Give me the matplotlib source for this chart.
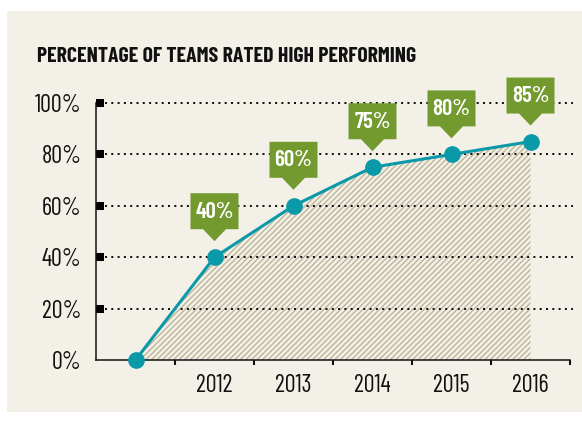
import matplotlib
matplotlib.use("Agg")
import matplotlib.pyplot as plt
from matplotlib import font_manager as fm
from matplotlib.patches import Rectangle, Polygon
from matplotlib.transforms import Affine2D, ScaledTranslation
from matplotlib.ticker import FixedLocator, NullFormatter, FixedFormatter

# ---- data ----
categories = ["", "2012", "2013", "2014", "2015", "2016"]
values = [0, 40, 60, 75, 80, 85]
value_labels = ["", "40%", "60%", "75%", "80%", "85%"]
yticks = [0, 20, 40, 60, 80, 100]
ytick_labels = ["0%", "20%", "40%", "60%", "80%", "100%"]
title = "PERCENTAGE OF TEAMS RATED HIGH PERFORMING"

# ---- style ----
PANEL = "#F3F0E8"
GREEN = "#739A2F"
TEAL = "#0A99A8"
HATCH = "#BDB597"
INK = "#111111"

names = {f.name for f in fm.fontManager.ttflist}
FAM = None
for cand in ["Barlow Condensed", "Roboto Condensed", "Archivo Narrow",
             "Liberation Sans Narrow"]:
    if cand in names:
        FAM = [cand, "DejaVu Sans"]
        break
if FAM is None:
    FAM = ["DejaVu Sans"]
    plt.rcParams["font.stretch"] = "condensed"
plt.rcParams["font.family"] = FAM
plt.rcParams["hatch.linewidth"] = 1.0

W, H, DPI = 582, 423, 100
fig = plt.figure(figsize=(W / DPI, H / DPI), dpi=DPI, facecolor="white")

# panel background
fig.patches.append(Rectangle((7 / W, 1 - 412 / H), (W - 7) / W, (412 - 11) / H,
                             transform=fig.transFigure, facecolor=PANEL,
                             edgecolor="none", zorder=-10))

ax = fig.add_axes([96 / W, 1 - 360 / H, (570 - 96) / W, (360 - 103) / H])
ax.set_facecolor("none")

x = list(range(len(categories)))
ax.set_xlim(-0.5, len(categories) - 0.5)
ax.set_ylim(0, 100)

for s in ("top", "right"):
    ax.spines[s].set_visible(False)
for s in ("left", "bottom"):
    ax.spines[s].set_color(INK)
    ax.spines[s].set_linewidth(1.1)

# hatched area
ax.fill_between(x, values, 0, facecolor=PANEL, edgecolor=HATCH, hatch="//////",
                linewidth=0, zorder=1)

# dotted grid
ax.hlines(yticks[1:], 0.02, 1.006, transform=ax.get_yaxis_transform(),
          colors=INK, linewidth=1.44, linestyles=(0, (1, 2.15)),
          clip_on=False, zorder=2)

# line + markers
ax.plot(x, values, color=TEAL, linewidth=2.2, marker="o", markersize=11,
        clip_on=False, zorder=5)

TICK_FS = 17.5

# y axis ticks (squares)
ax.yaxis.set_major_locator(FixedLocator(yticks))
ax.yaxis.set_major_formatter(FixedFormatter(ytick_labels))
ax.tick_params(axis="y", direction="in", length=5.76, width=5.76, color="black",
               pad=10.4, labelsize=TICK_FS, labelcolor=INK)
ax.yaxis.get_major_ticks()[0].tick1line.set_visible(False)

# x axis: ticks between categories, labels at categories
ax.xaxis.set_major_locator(FixedLocator([i + 0.5 for i in x]))
ax.xaxis.set_major_formatter(NullFormatter())
ax.xaxis.set_minor_locator(FixedLocator(x[1:]))
ax.xaxis.set_minor_formatter(FixedFormatter(categories[1:]))
ax.tick_params(axis="x", which="major", direction="out", length=3.5, width=1.5,
               color=INK)
ax.tick_params(axis="x", which="minor", length=0, pad=23, labelsize=TICK_FS,
               labelcolor=INK)
for t in ax.xaxis.get_minor_ticks():
    t.label1.set_va("baseline")

# callouts
px2pt = 72 / DPI
for xi, v, lab in zip(x, values, value_labels):
    if not lab:
        continue
    verts = [(-24, 28), (-11.5, 28), (0, 16), (11.5, 28), (24, 28), (24, 64), (-24, 64)]
    tr = Affine2D() + ScaledTranslation(xi, v, ax.transData)
    ax.add_patch(Polygon(verts, closed=True, transform=tr, facecolor=GREEN,
                         edgecolor="none", clip_on=False, zorder=6))
    ax.annotate(lab, (xi, v), xytext=(0, 39.5 * px2pt), textcoords="offset points",
                ha="center", va="baseline", color="white", fontsize=16.5,
                fontweight="semibold", zorder=7, annotation_clip=False)

# title, fitted to width
t = fig.text(37 / W, 1 - 62 / H, title, fontsize=15.5, fontweight="bold",
             color=INK, va="baseline", ha="left")
fig.canvas.draw()
bb = t.get_window_extent()
t.set_fontsize(15.5 * 380 / bb.width)

fig.savefig("out.png", dpi=DPI, facecolor="white")
